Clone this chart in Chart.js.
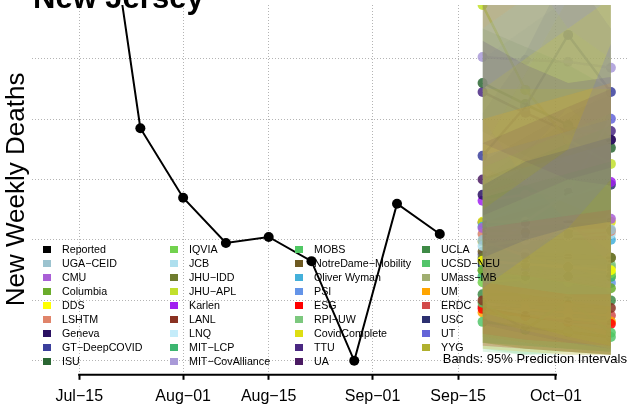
<!DOCTYPE html>
<html>
<head>
<meta charset="utf-8">
<script src="https://cdn.jsdelivr.net/npm/chart.js@4.4.0/dist/chart.umd.min.js"></script>
<style>
    html, body { margin: 0; padding: 0; background: #fff; }
    #wrap { position: relative; width: 628px; height: 414px; overflow: hidden; }
    #title { position: absolute; left: 33px; top: -18px; font: bold 31px/31px "Liberation Sans", Arial, sans-serif; color: #000; white-space: nowrap; }
    #note { position: absolute; right: 1px; top: 351px; font: 13px/15px "Liberation Sans", Arial, sans-serif; color: #000; white-space: nowrap; }
    #legend {
        position: absolute; left: 43px; top: 242px;
        display: grid; grid-template-columns: 127px 125px 127px 127px;
        grid-template-rows: repeat(9, 14px); grid-auto-flow: column;
        font: 10.7px "Liberation Sans", Arial, sans-serif; color: #000;
    }
    #legend div { display: flex; align-items: center; white-space: nowrap; }
    #legend .box { width: 8px; height: 7px; margin-right: 11px; flex: none; }
</style>
</head>
<body>
<div id="wrap">
    <!-- a bit wider than the window: Chart.js keeps ~5px on the right, R's plot runs to the edge -->
    <canvas id="chart" width="633" height="414"></canvas>
    <div id="title">New Jersey</div>
    <div id="legend"></div>
    <div id="note">Bands: 95% Prediction Intervals</div>
</div>
<script>
const reportedDates = ['2020-07-18', '2020-07-25', '2020-08-01', '2020-08-08', '2020-08-15', '2020-08-22', '2020-08-29', '2020-09-05', '2020-09-12'];
const reportedDeaths = [214, 117, 94, 79, 81, 73, 40, 92, 82];
const forecastDates = ['2020-09-19', '2020-09-26', '2020-10-03', '2020-10-10'];

const tickDates = ['2020-07-15', '2020-08-01', '2020-08-15', '2020-09-01', '2020-09-15', '2020-10-01'];
const tickLabels = ['Jul−15', 'Aug−01', 'Aug−15', 'Sep−01', 'Sep−15', 'Oct−01'];
const gridValues = [40, 60, 80, 100, 120, 140];

const modelNames = [
    'UGA−CEID', 'CMU', 'Columbia', 'DDS', 'LSHTM', 'Geneva', 'GT−DeepCOVID', 'ISU',
    'IQVIA', 'JCB', 'JHU−IDD', 'JHU−APL', 'Karlen', 'LANL', 'LNQ', 'MIT−LCP', 'MIT−CovAlliance',
    'MOBS', 'NotreDame−Mobility', 'Oliver Wyman', 'PSI', 'ESG', 'RPI−UW', 'CovidComplete', 'TTU', 'UA',
    'UCLA', 'UCSD−NEU', 'UMass−MB', 'UM', 'ERDC', 'USC', 'UT', 'YYG'
];
const modelColors = [
    '#9cc3cf', '#a95fd6', '#6aac2c', '#ffff00', '#e0846a', '#2a1062', '#3b3f9c', '#2a6632',
    '#72d24e', '#aedfee', '#6e7c2e', '#c2e02c', '#a020f0', '#8a3222', '#c4ecfa', '#3cb670', '#a99ad8',
    '#50c864', '#6e5a22', '#44b0da', '#6494e8', '#ff0000', '#7cc87e', '#dede12', '#4a2882', '#4a1a62',
    '#3e8a46', '#52c46a', '#a0ae70', '#ffa500', '#d24a4a', '#2c3070', '#6464d8', '#b0b02e'
];
const modelPoints = [
    [80, 81, 82, 83.4], [84, 85, 86, 87], [70, 68, 66, 64], [73.1, 72, 71, 70],
    [82, 82.5, 83, 83], [95, 100, 107, 113.2], [107.9, 124.1, 147.9, 129], [132, 125, 118, 110.5],
    [66, 67, 68, 69], [78, 80, 81, 82], [74, 74, 74, 74.1], [157.8, 129.7, 113.2, 105.2],
    [93, 95, 97, 99.2], [60, 59, 58.5, 57.5], [82, 82.5, 83, 83.5], [68, 68, 68, 67.8],
    [140.6, 139.6, 139, 137], [59.2, 50.3, 60.2, 49.3], [76.1, 75.5, 75, 74.1], [84.4, 83, 81.5, 80.1],
    [72, 70, 68, 65.8], [57.2, 54.9, 52.9, 52.2], [70, 70.5, 71, 71.8], [86, 86, 86, 86],
    [129, 122.1, 115.8, 116.1], [100, 105, 110, 113.2], [62, 62, 61, 60], [52.9, 51, 49.5, 47.9],
    [73, 72, 71.5, 71], [56, 55, 54, 53], [58, 57, 56, 55], [85.7, 92, 95.6, 98.3],
    [75.1, 86, 95.6, 120.1], [79.4, 74.8, 71.1, 67.8]
];
const modelLower = [
    [60, 57, 54, 51], [70, 68, 66, 64], [48, 46, 44, 43], [46, 44, 43, 42],
    [60, 56, 52, 48], [84, 88, 94, 100], [96, 108, 124, 112], [116, 108, 100, 94],
    [46, 45, 44, 43], [56, 52, 49, 46], [46, 44, 43, 42], [120, 100, 86, 76],
    [80, 80, 80, 80], [45, 44, 43, 42], [58, 55, 52, 50], [46, 45, 44, 43],
    [104, 98, 92, 86], [44, 42, 43, 42], [52, 49, 46, 44], [64, 62, 60, 58],
    [52, 49, 46, 44], [49, 47, 46, 45], [46, 45, 44, 43], [54, 50, 47, 44],
    [112, 106, 100, 98], [88, 94, 100, 104], [46, 44, 43, 42], [43, 42, 42, 42],
    [48, 46, 44, 43], [44, 43, 42, 42], [45, 44, 43, 42], [74, 80, 84, 86],
    [64, 74, 84, 100], [56, 52, 48, 45]
];
const modelUpper = [
    [140, 150, 160, 170], [100, 104, 108, 112], [100, 110, 120, 130], [110, 135, 160, 185],
    [165, 170, 175, 185], [106, 114, 122, 128], [122, 142, 170, 150], [150, 144, 138, 130],
    [96, 104, 112, 120], [150, 160, 170, 180], [160, 160, 165, 170], [200, 170, 150, 140],
    [108, 112, 116, 120], [86, 90, 94, 98], [150, 160, 170, 180], [100, 106, 112, 118],
    [190, 196, 202, 208], [80, 74, 86, 72], [165, 168, 172, 180], [108, 112, 116, 120],
    [100, 104, 108, 112], [66, 64, 62, 62], [104, 110, 116, 122], [130, 140, 150, 160],
    [146, 138, 132, 134], [112, 118, 124, 130], [94, 98, 102, 106], [70, 68, 66, 64],
    [160, 160, 165, 170], [120, 124, 128, 132], [84, 86, 88, 90], [98, 106, 110, 114],
    [90, 100, 110, 145], [130, 130, 130, 130]
];

const font = '"Liberation Sans", Arial, sans-serif';
const day = s => (Date.parse(s) - Date.parse('2020-07-01')) / 864e5;
const rgba = (hex, a) => {
    const n = parseInt(hex.slice(1), 16);
    return `rgba(${n >> 16},${(n >> 8) & 255},${n & 255},${a})`;
};
const toXY = (dates, values) => dates.map((d, i) => ({ x: day(d), y: values[i] }));

const datasets = [{
    label: 'Reported',
    data: toXY(reportedDates, reportedDeaths),
    borderColor: '#000',
    backgroundColor: '#000',
    borderWidth: 2,
    pointRadius: 5,
    pointBorderWidth: 0,
    order: 2,
    clip: 0
}];

modelNames.forEach((name, m) => {
    datasets.push({
        label: name,
        data: toXY(forecastDates, modelPoints[m]),
        borderColor: rgba(modelColors[m], 0.7),
        backgroundColor: rgba(modelColors[m], 0.85),
        borderWidth: 2.5,
        pointRadius: 5,
        pointBorderWidth: 0,
        order: 3,
        clip: 0
    });
});

// bands sit over the point forecasts; pushed in reverse so later models end up on top, as in R
modelNames.slice().reverse().forEach(name => {
    const m = modelNames.indexOf(name);
    datasets.push({
        label: name + ' lower',
        band: true,
        data: toXY(forecastDates, modelLower[m]),
        borderColor: 'rgba(0,0,0,0)',
        borderWidth: 0,
        pointRadius: 0,
        fill: false,
        order: 1,
        clip: 0
    }, {
        label: name + ' upper',
        band: true,
        data: toXY(forecastDates, modelUpper[m]),
        borderColor: 'rgba(0,0,0,0)',
        borderWidth: 0,
        pointRadius: 0,
        backgroundColor: rgba(modelColors[m], 0.18),
        fill: '-1',
        order: 1,
        clip: 0
    });
});

// R style axis: line only between first and last tick
const rAxisLine = {
    id: 'rAxisLine',
    afterDraw(chart) {
        const { ctx, scales: { x } } = chart;
        const x0 = x.getPixelForValue(day(tickDates[0]));
        const x1 = x.getPixelForValue(day(tickDates[tickDates.length - 1]));
        ctx.save();
        ctx.strokeStyle = '#000';
        ctx.lineWidth = 2;
        ctx.beginPath();
        ctx.moveTo(x0 - 1, x.top + 1);
        ctx.lineTo(x1 + 1, x.top + 1);
        ctx.stroke();
        ctx.restore();
    }
};

const chart = new Chart(document.getElementById('chart'), {
    type: 'line',
    data: { datasets },
    options: {
        responsive: false,
        animation: false,
        layout: { padding: { left: 1, right: 0, top: 5, bottom: 1 } },
        plugins: {
            legend: { display: false },
            tooltip: { enabled: false }
        },
        scales: {
            x: {
                type: 'linear',
                min: 6.3,
                max: 103.8,
                afterBuildTicks: s => { s.ticks = tickDates.map(d => ({ value: day(d) })); },
                ticks: {
                    callback: (v, i) => tickLabels[i],
                    color: '#000',
                    font: { family: font, size: 16 },
                    padding: 7,
                    maxRotation: 0,
                    autoSkip: false
                },
                grid: { color: '#b4b4b4', lineWidth: 1, tickLength: 6, tickColor: '#000', tickWidth: 2 },
                border: { display: false, dash: [1, 2] }
            },
            y: {
                min: 35.7,
                max: 157.8,
                afterBuildTicks: s => { s.ticks = gridValues.map(v => ({ value: v })); },
                ticks: { display: false },
                grid: { color: '#b4b4b4', lineWidth: 1, drawTicks: false },
                border: { display: false, dash: [1, 2] },
                title: {
                    display: true,
                    text: 'New Weekly Deaths',
                    color: '#000',
                    font: { family: font, size: 26 },
                    padding: 0
                }
            }
        }
    },
    plugins: [rAxisLine]
});

const legendBox = document.getElementById('legend');
[['Reported', '#000000']].concat(modelNames.map((n, i) => [n, modelColors[i]])).forEach(([name, color]) => {
    const item = document.createElement('div');
    const box = document.createElement('span');
    box.className = 'box';
    box.style.background = color;
    item.appendChild(box);
    item.appendChild(document.createTextNode(name));
    legendBox.appendChild(item);
});
</script>
</body>
</html>
